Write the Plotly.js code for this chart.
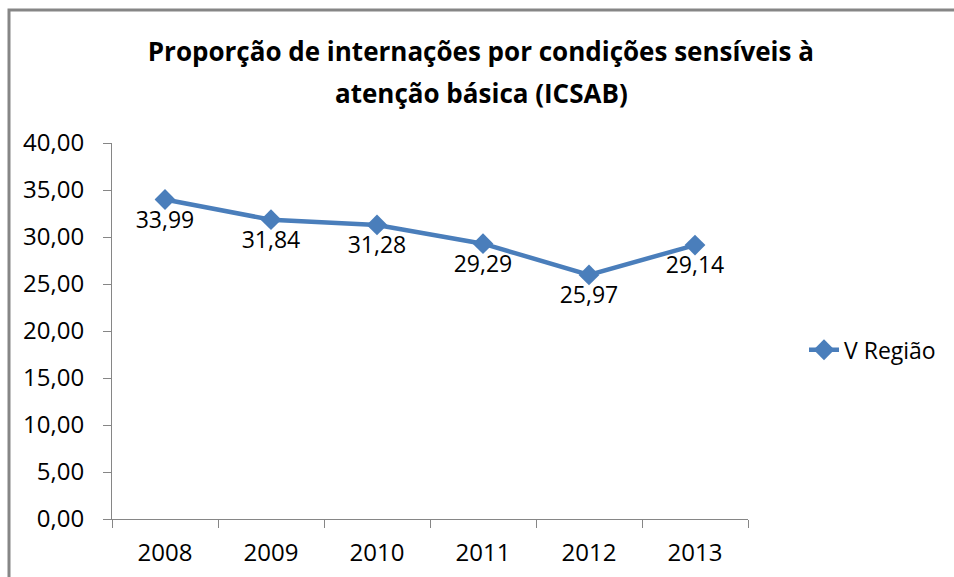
<!DOCTYPE html>
<html>
<head>
<meta charset="utf-8">
<script src="https://cdn.plot.ly/plotly-3.0.1.min.js"></script>
<style>
html,body{margin:0;padding:0;background:#fff;}
#chart{width:954px;height:577px;}
</style>
</head>
<body>
<div id="chart"></div>
<script>
const years = ["2008", "2009", "2010", "2011", "2012", "2013"];
const values = [33.99, 31.84, 31.28, 29.29, 25.97, 29.14];
const labels = ["33,99", "31,84", "31,28", "29,29", "25,97", "29,14"];
const seriesName = "V Região";
const yTicks = [0, 5, 10, 15, 20, 25, 30, 35, 40];
const titleLine1 = "Proporção de internações por condições sensíveis à";
const titleLine2 = "atenção básica (ICSAB)";

const FONT = "Open Sans, Noto Sans, sans-serif";
const trace = {
  x: years,
  y: values,
  text: labels,
  type: "scatter",
  mode: "lines+markers+text",
  name: seriesName,
  textposition: "bottom center",
  textfont: {family: FONT, size: 23, color: "#000"},
  line: {color: "#4A7EBB", width: 4.5},
  marker: {symbol: "diamond", size: 16, color: "#4A7EBB"},
  cliponaxis: false,
  hoverinfo: "none"
};

const layout = {
  width: 954,
  height: 577,
  margin: {l: 112, r: 206, t: 143, b: 58},
  paper_bgcolor: "#fff",
  plot_bgcolor: "#fff",
  separators: ",.",
  font: {family: FONT, color: "#000"},
  title: {
    text: "<b>" + titleLine1 + "</b>",
    font: {family: FONT, size: 26, color: "#000"},
    x: 0.504, xref: "container", xanchor: "center",
    y: 1 - 52 / 577, yref: "container", yanchor: "middle"
  },
  annotations: [{
    text: "<b>" + titleLine2 + "</b>",
    font: {family: FONT, size: 26, color: "#000"},
    xref: "paper", yref: "paper",
    x: (481 - 112) / 636, y: (519 - 93) / 376,
    xanchor: "center", yanchor: "middle",
    showarrow: false
  }],
  xaxis: {
    type: "category",
    range: [-0.5, 5.5],
    tickson: "boundaries",
    ticks: "outside",
    ticklen: 8,
    tickcolor: "#868686",
    tickwidth: 1,
    showline: true,
    linecolor: "#868686",
    linewidth: 1,
    showgrid: false,
    zeroline: false,
    ticklabelstandoff: 12,
    tickfont: {family: FONT, size: 24, color: "#000"},
    fixedrange: true
  },
  yaxis: {
    range: [0, 40],
    tickvals: yTicks,
    tickformat: ".2f",
    ticks: "outside",
    ticklen: 8,
    tickcolor: "#868686",
    tickwidth: 1,
    showline: true,
    linecolor: "#868686",
    linewidth: 1,
    showgrid: false,
    zeroline: false,
    ticklabelstandoff: 14,
    tickfont: {family: FONT, size: 24, color: "#000"},
    fixedrange: true
  },
  showlegend: true,
  legend: {
    x: (804 - 112) / 636, xanchor: "left",
    y: 0.45, yanchor: "middle",
    font: {family: FONT, size: 23, color: "#000"},
    bgcolor: "rgba(0,0,0,0)",
    itemwidth: 30
  },
  shapes: [{
    type: "rect", xref: "paper", yref: "paper",
    x0: (9 - 112) / 636, x1: (970 - 112) / 636,
    y0: (519 - 590) / 376, y1: (519 - 10) / 376,
    line: {color: "#868686", width: 3},
    fillcolor: "rgba(0,0,0,0)",
    layer: "below"
  }]
};

Plotly.newPlot("chart", [trace], layout, {displayModeBar: false, staticPlot: true});
</script>
</body>
</html>
